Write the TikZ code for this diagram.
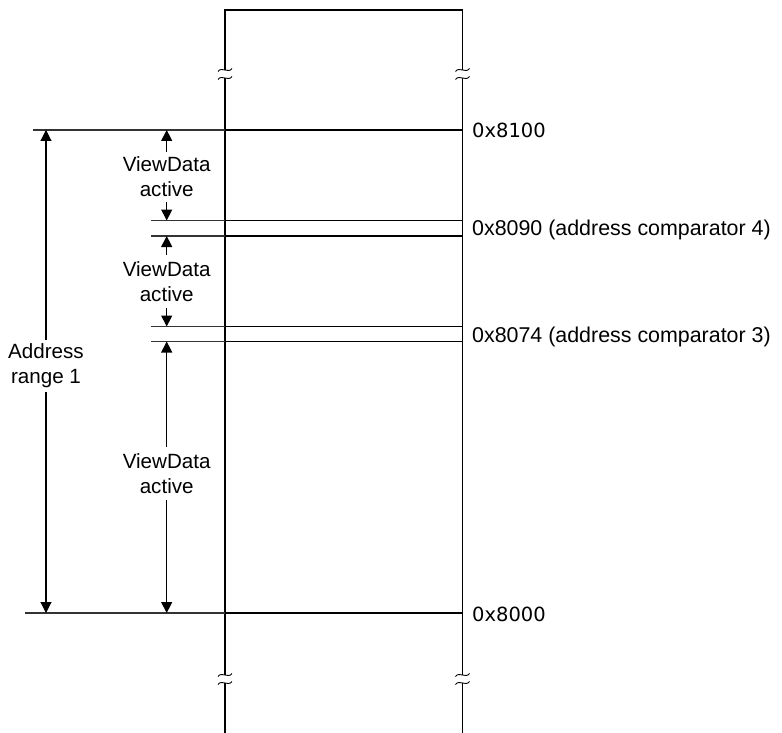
\documentclass[tikz,border=0pt]{standalone}
\usepackage{fontspec}
\setmainfont{Liberation Sans}
\newfontfamily\hexfont{DejaVu Sans}
\usetikzlibrary{arrows.meta}
\newcommand\brkmark[2]{\draw[brk] (#1-7,#2+1.5) .. controls (#1-3,#2-4) and (#1+3,#2+4) .. (#1+7,#2-1.5);}
\begin{document}
\begin{tikzpicture}[x=1pt,y=-1pt,
  rail/.style={line width=1.15pt,black},
  addrline/.style={line width=1.5pt,black},
  leftline/.style={line width=1.15pt,black!80},
  brk/.style={line width=0.9pt,black},
  dimarrow/.style={line width=1.1pt,black,-{Triangle[width=11pt,length=11pt]}},
  lbl/.style={font=\fontsize{20.6}{25}\selectfont,align=center,inner sep=0pt},
  hexl/.style={font=\hexfont\fontsize{19.5}{23}\selectfont,anchor=base west,inner sep=0pt},
  cmpl/.style={font=\fontsize{21.4}{26}\selectfont,anchor=base west,inner sep=0pt}]
\useasboundingbox (0,0) rectangle (782,733);

% rails
\coordinate (LT) at (225,10);
\coordinate (RT) at (462.5,10);
\draw[rail] (225,70) -- (LT) -- (RT) -- (462.5,70);
\foreach \x in {225,462.5}{
  \draw[rail] (\x,78) -- (\x,675);
  \draw[rail] (\x,683) -- (\x,733);
  \brkmark{\x}{70}
  \brkmark{\x}{78}
  \brkmark{\x}{675}
  \brkmark{\x}{683}
}

% address lines
\foreach \y/\xs in {130/33, 220.5/151, 236/151, 326.5/151, 341.5/151, 613/25}{
  \draw[leftline] (\xs,\y) -- (225,\y);
  \draw[addrline] (225,\y) -- (462.5,\y);
}

% right labels
\node[hexl] (h8100) at (472,137.8) {0x8100};
\node[cmpl] (h8090) at (472,235.7) {0x8090 (address comparator 4)};
\node[cmpl] (h8074) at (472,342.7) {0x8074 (address comparator 3)};
\node[hexl] (h8000) at (472,621.1) {0x8000};

% arrow targets
\coordinate (aTop) at (46,130);
\coordinate (aBot) at (46,613);
\coordinate (v1t) at (166.7,130);
\coordinate (v1b) at (166.7,220.5);
\coordinate (v2t) at (166.7,236);
\coordinate (v2b) at (166.7,326.5);
\coordinate (v3t) at (166.7,341.5);
\coordinate (v3b) at (166.7,613);

% left labels
\node[lbl,minimum height=52pt] (addr) at (46,366) {Address\\range 1};
\node[lbl,minimum height=50pt] (v1) at (166.7,177) {ViewData\\active};
\node[lbl,minimum height=53pt] (v2) at (166.7,281.5) {ViewData\\active};
\node[lbl,minimum height=53.3pt] (v3) at (166.7,473.4) {ViewData\\active};

\draw[dimarrow] (addr.north) -- (aTop);
\draw[dimarrow] (addr.south) -- (aBot);
\draw[dimarrow] (v1.north) -- (v1t);
\draw[dimarrow] (v1.south) -- (v1b);
\draw[dimarrow] (v2.north) -- (v2t);
\draw[dimarrow] (v2.south) -- (v2b);
\draw[dimarrow] (v3.north) -- (v3t);
\draw[dimarrow] (v3.south) -- (v3b);
\end{tikzpicture}
\end{document}
